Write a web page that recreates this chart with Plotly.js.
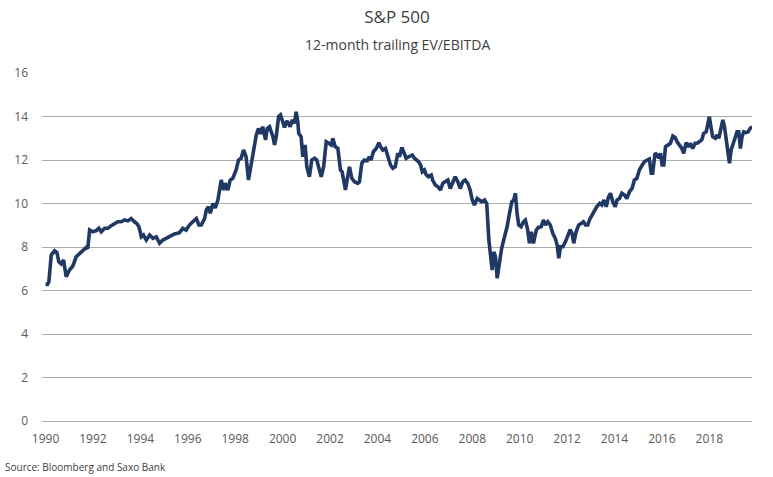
<!DOCTYPE html>
<html>
<head>
<meta charset="utf-8">
<script src="https://cdn.plot.ly/plotly-3.0.1.min.js"></script>
<style>html,body{margin:0;padding:0;background:#fff;}#chart{width:773px;height:477px;}</style>
</head>
<body>
<div id="chart"></div>
<script>
// Decimal-year dates
var years = [
1990.00,1990.08,1990.14,1990.24,1990.38,1990.48,1990.56,1990.66,1990.76,1990.87,1991.01,
1991.15,1991.29,1991.43,1991.57,1991.72,1991.78,1991.86,1991.99,1992.14,1992.25,
1992.35,1992.49,1992.63,1992.77,1992.91,1993.05,1993.19,1993.33,1993.47,1993.61,
1993.75,1993.85,1993.94,1994.04,1994.13,1994.25,1994.39,1994.53,1994.67,1994.81,
1994.95,1995.09,1995.23,1995.44,1995.65,1995.79,1995.93,1996.07,1996.21,1996.36,
1996.47,1996.57,1996.71,1996.78,1996.87,1996.95,1997.06,1997.16,1997.27,1997.41,
1997.51,1997.58,1997.69,1997.79,1997.90,1998.04,1998.14,1998.25,1998.35,1998.46,
1998.56,1998.68,1998.79,1998.89,1998.98,1999.07,1999.16,1999.28,1999.35,1999.45,
1999.59,1999.66,1999.73,1999.83,1999.91,2000.01,2000.08,2000.18,2000.32,2000.40,
2000.50,2000.57,2000.64,2000.68,2000.78,2000.85,2000.95,2001.02,2001.13,2001.23,
2001.35,2001.44,2001.53,2001.63,2001.73,2001.84,2001.95,2002.05,2002.12,2002.22,
2002.33,2002.44,2002.51,2002.58,2002.65,2002.72,2002.82,2002.92,2003.03,2003.17,
2003.24,2003.34,2003.45,2003.57,2003.66,2003.73,2003.83,2003.95,2004.06,2004.13,
2004.23,2004.34,2004.44,2004.55,2004.65,2004.75,2004.86,2004.93,2005.03,2005.11,
2005.21,2005.32,2005.47,2005.56,2005.66,2005.74,2005.82,2005.89,2005.98,2006.06,
2006.15,2006.27,2006.33,2006.44,2006.55,2006.66,2006.76,2006.86,2006.97,2007.07,
2007.18,2007.28,2007.39,2007.49,2007.60,2007.70,2007.81,2007.91,2008.00,2008.09,
2008.21,2008.30,2008.40,2008.52,2008.61,2008.70,2008.77,2008.84,2008.91,2008.98,
2009.05,2009.15,2009.24,2009.36,2009.47,2009.57,2009.67,2009.75,2009.82,2009.89,
2009.96,2010.06,2010.16,2010.24,2010.34,2010.41,2010.49,2010.58,2010.70,2010.79,
2010.91,2011.00,2011.09,2011.19,2011.29,2011.40,2011.50,2011.58,2011.65,2011.72,
2011.82,2011.93,2012.03,2012.13,2012.21,2012.28,2012.38,2012.49,2012.59,2012.69,
2012.78,2012.87,2012.97,2013.06,2013.15,2013.25,2013.37,2013.46,2013.55,2013.65,
2013.75,2013.83,2013.93,2014.03,2014.11,2014.21,2014.31,2014.42,2014.52,2014.63,
2014.74,2014.84,2014.94,2015.05,2015.17,2015.26,2015.38,2015.47,2015.55,2015.61,
2015.71,2015.80,2015.87,2015.94,2016.01,2016.08,2016.15,2016.25,2016.36,2016.46,
2016.56,2016.64,2016.74,2016.84,2016.92,2017.02,2017.12,2017.20,2017.30,2017.40,
2017.49,2017.58,2017.68,2017.76,2017.87,2017.93,2018.00,2018.08,2018.14,2018.25,
2018.33,2018.40,2018.47,2018.57,2018.64,2018.71,2018.78,2018.85,2018.92,2018.99,
2019.10,2019.17,2019.24,2019.31,2019.38,2019.45,2019.55,2019.64,2019.72,2019.81
];
// 12-month trailing EV/EBITDA values
var evEbitda = [
6.28,6.28,6.40,7.63,7.83,7.75,7.32,7.22,7.40,6.63,6.94,
7.12,7.55,7.70,7.86,7.98,7.93,8.78,8.70,8.75,8.86,
8.70,8.86,8.86,8.98,9.08,9.16,9.16,9.24,9.20,9.31,
9.16,9.08,8.93,8.47,8.55,8.32,8.55,8.40,8.47,8.17,
8.32,8.40,8.47,8.60,8.66,8.86,8.78,9.01,9.16,9.31,
9.01,9.01,9.31,9.70,9.85,9.55,10.00,9.80,10.16,11.08,
10.62,10.93,10.62,11.08,11.16,11.54,12.00,12.08,12.46,12.15,
11.08,11.92,12.69,13.15,13.45,13.20,13.53,12.92,13.45,13.53,
13.07,12.69,13.07,13.99,14.07,13.69,13.50,13.80,13.53,13.84,
13.69,14.22,13.76,13.22,13.07,12.15,12.69,11.69,11.23,12.00,
12.08,12.00,11.62,11.23,11.69,12.84,12.77,12.69,12.99,12.61,
12.54,11.54,11.46,11.08,10.62,11.08,11.69,11.16,11.00,10.93,
11.00,11.85,12.00,11.97,12.15,12.00,12.38,12.53,12.79,12.61,
12.46,12.53,12.15,11.77,11.62,11.69,12.31,12.15,12.58,12.31,
12.08,12.15,12.23,12.08,12.00,11.92,11.77,11.46,11.54,11.31,
11.23,11.31,11.08,10.85,10.77,10.62,10.93,11.00,11.08,10.69,
10.93,11.23,11.00,10.69,11.00,11.08,10.93,10.62,10.16,9.93,
10.23,10.16,10.08,10.16,10.00,8.32,7.40,6.94,7.78,7.55,
6.56,7.25,7.94,8.47,8.93,9.55,10.08,10.16,10.47,9.55,
9.01,8.93,9.16,9.24,8.78,8.17,8.70,8.17,8.78,8.90,
8.93,9.24,9.01,9.16,9.01,8.62,8.40,8.09,7.48,8.01,
8.01,8.24,8.55,8.80,8.62,8.17,8.70,9.01,9.08,9.16,
9.01,9.01,9.31,9.47,9.70,9.85,10.00,9.93,10.16,9.85,
10.31,10.47,10.08,9.85,10.16,10.23,10.47,10.39,10.23,10.54,
10.69,11.08,11.15,11.54,11.77,11.92,12.00,12.05,11.39,11.39,
12.31,12.23,12.08,12.31,11.77,11.77,12.61,12.69,12.77,13.10,
13.03,12.84,12.69,12.53,12.31,12.80,12.60,12.77,12.53,12.77,
12.77,12.84,12.92,13.22,13.30,13.61,13.99,13.45,13.07,13.00,
13.15,13.00,13.38,13.84,13.53,12.92,12.46,11.85,12.46,12.69,
13.07,13.30,13.30,12.53,13.07,13.30,13.26,13.30,13.45,13.53
];
var xTickVals = [1990,1992,1994,1996,1998,2000,2002,2004,2006,2008,2010,2012,2014,2016,2018];
var xTickText = ["1990","1992","1994","1996","1998","2000","2002","2004","2006","2008","2010","2012","2014","2016","2018"];
var yTickVals = [0,2,4,6,8,10,12,14,16];

var trace = {
  x: years, y: evEbitda, type: 'scatter', mode: 'lines',
  line: {color: '#203864', width: 3.6, shape: 'linear'},
  hoverinfo: 'x+y'
};
var font = "'Open Sans', 'Noto Sans', sans-serif";
var layout = {
  width: 773, height: 477,
  margin: {l: 42, r: 21, t: 73, b: 56},
  paper_bgcolor: '#ffffff', plot_bgcolor: '#ffffff',
  font: {family: font, color: '#595959', size: 12},
  showlegend: false,
  title: {text: 'S&P 500', font: {family: font, size: 17, color: '#404040'},
          x: 0.5, xanchor: 'center', xref: 'paper', y: 1 - 17/477, yref: 'container', yanchor: 'middle'},
  xaxis: {
    range: [1989.85, 2019.8], tickvals: xTickVals, ticktext: xTickText,
    showgrid: false, zeroline: false, showline: false, ticks: '',
    tickfont: {family: font, size: 12, color: '#595959'}, ticklabelstandoff: 9, fixedrange: true
  },
  yaxis: {
    range: [0, 16], tickvals: yTickVals, showgrid: true, gridcolor: '#ababab', gridwidth: 1,
    zeroline: true, zerolinecolor: '#ababab', zerolinewidth: 1, showline: false, ticks: '',
    tickfont: {family: font, size: 12, color: '#595959'}, ticklabelstandoff: 13, fixedrange: true
  },
  annotations: [
    {text: '12-month trailing EV/EBITDA', xref: 'paper', yref: 'paper', x: 0.5, y: 1 + (73 - 44) / 348,
     xanchor: 'center', yanchor: 'middle', showarrow: false, font: {family: font, size: 14, color: '#404040'}},
    {text: 'Source: Bloomberg and Saxo Bank', xref: 'paper', yref: 'paper', x: -39/710, y: -(467 - 421) / 348,
     xanchor: 'left', yanchor: 'middle', showarrow: false, font: {family: font, size: 10, color: '#404040'}}
  ]
};
Plotly.newPlot('chart', [trace], layout, {displayModeBar: false, staticPlot: true});
</script>
</body>
</html>
